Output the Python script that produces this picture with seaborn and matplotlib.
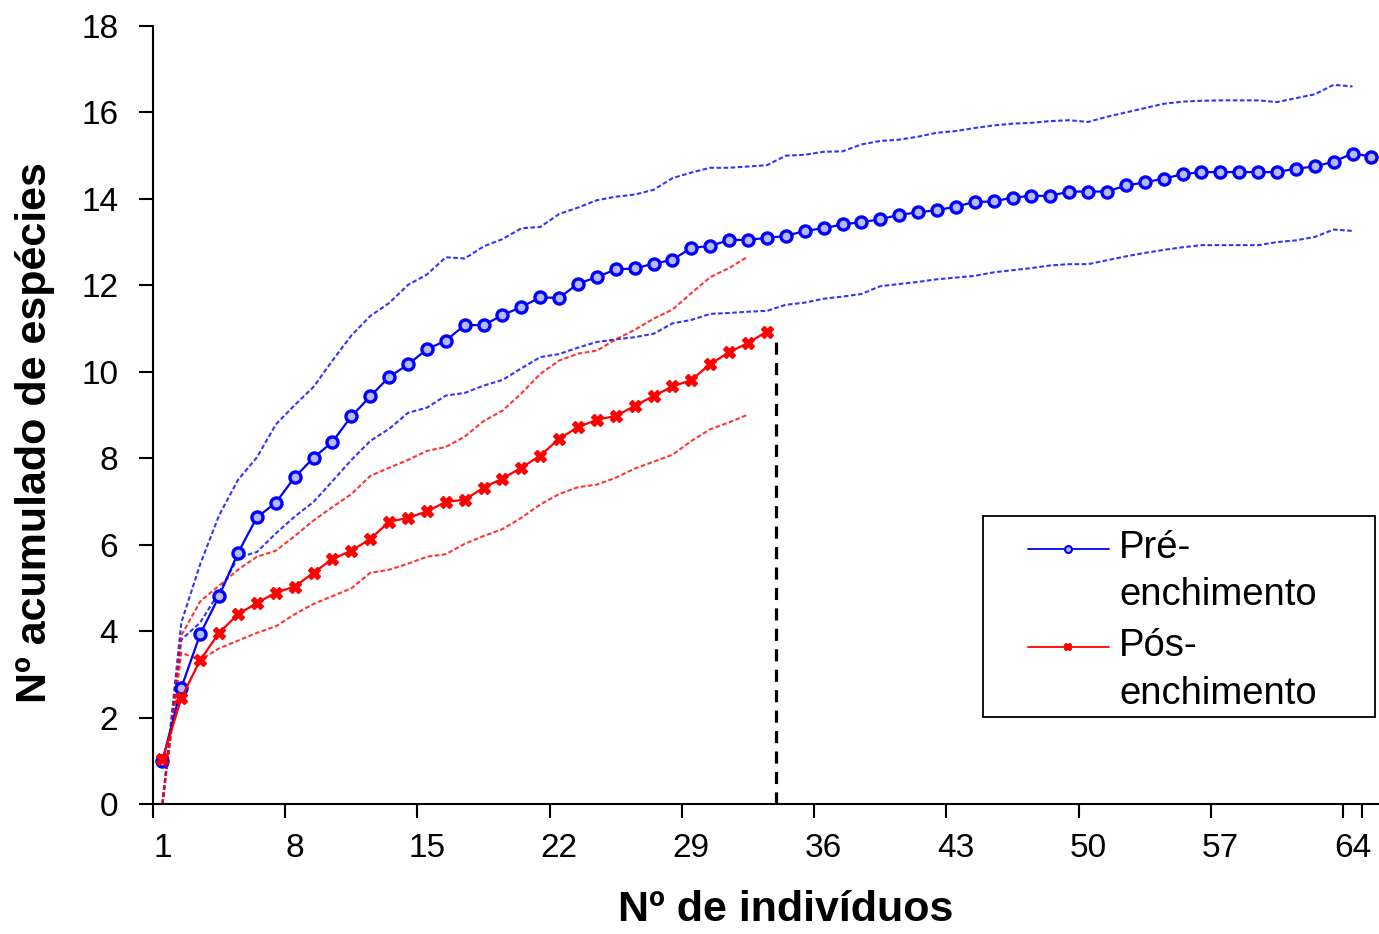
import matplotlib
matplotlib.use("Agg")
import matplotlib.pyplot as plt
from matplotlib.patches import Rectangle
import seaborn as sns

# -----------------------------------
# Data
# -----------------------------------
n_pre = list(range(1, 66))
pre_mean = [1.0, 2.69, 3.93, 4.81, 5.81, 6.63, 6.97, 7.56, 8.01, 8.38,
            8.97, 9.43, 9.88, 10.17, 10.52, 10.72, 11.08, 11.08, 11.31, 11.5,
            11.72, 11.71, 12.04, 12.19, 12.37, 12.39, 12.5, 12.59, 12.87, 12.91,
            13.05, 13.05, 13.1, 13.14, 13.26, 13.32, 13.41, 13.46, 13.53, 13.63,
            13.69, 13.74, 13.82, 13.93, 13.94, 14.03, 14.07, 14.07, 14.17, 14.17,
            14.17, 14.31, 14.38, 14.47, 14.57, 14.62, 14.62, 14.62, 14.62, 14.62,
            14.7, 14.75, 14.86, 15.05, 14.98]

n_pre_ci = list(range(1, 65))
pre_upper = [0, 4.2, 5.55, 6.68, 7.5, 8.02, 8.78, 9.23, 9.65, 10.26,
             10.84, 11.29, 11.59, 12.01, 12.25, 12.65, 12.62, 12.9, 13.07, 13.32,
             13.35, 13.65, 13.8, 13.97, 14.05, 14.1, 14.21, 14.48, 14.61, 14.72,
             14.72, 14.75, 14.78, 15.0, 15.02, 15.09, 15.1, 15.26, 15.34, 15.37,
             15.44, 15.53, 15.57, 15.64, 15.7, 15.74, 15.76, 15.8, 15.82, 15.78,
             15.9, 16.0, 16.1, 16.2, 16.25, 16.27, 16.28, 16.28, 16.28, 16.24,
             16.33, 16.42, 16.64, 16.6]
pre_lower = [0, 3.8, 4.2, 4.9, 5.7, 5.83, 6.26, 6.65, 6.99, 7.47,
             7.96, 8.4, 8.68, 9.05, 9.17, 9.45, 9.51, 9.68, 9.81, 10.08,
             10.34, 10.41, 10.56, 10.69, 10.75, 10.8, 10.88, 11.12, 11.2, 11.34,
             11.36, 11.39, 11.41, 11.55, 11.6, 11.69, 11.74, 11.8, 11.98, 12.03,
             12.08, 12.14, 12.18, 12.22, 12.3, 12.35, 12.4, 12.46, 12.49, 12.49,
             12.58, 12.67, 12.75, 12.82, 12.88, 12.93, 12.93, 12.93, 12.93, 13.0,
             13.04, 13.12, 13.29, 13.26]

n_pos = list(range(1, 34))
pos_mean = [1.03, 2.45, 3.33, 3.96, 4.39, 4.65, 4.89, 5.03, 5.35, 5.67,
            5.86, 6.13, 6.53, 6.62, 6.77, 6.99, 7.04, 7.32, 7.53, 7.78,
            8.06, 8.45, 8.72, 8.89, 8.98, 9.21, 9.44, 9.66, 9.81, 10.18,
            10.45, 10.67, 10.93]

n_pos_ci = list(range(1, 33))
pos_upper = [0, 3.9, 4.69, 5.05, 5.42, 5.72, 5.86, 6.2, 6.56, 6.87,
             7.17, 7.59, 7.78, 7.96, 8.17, 8.26, 8.5, 8.86, 9.1, 9.5,
             9.95, 10.26, 10.42, 10.49, 10.75, 10.97, 11.23, 11.44, 11.82, 12.19,
             12.4, 12.67]
pos_lower = [0, 3.5, 3.33, 3.6, 3.78, 3.96, 4.11, 4.39, 4.63, 4.81,
             4.99, 5.35, 5.42, 5.56, 5.72, 5.78, 6.02, 6.2, 6.36, 6.62,
             6.93, 7.17, 7.33, 7.39, 7.55, 7.76, 7.92, 8.08, 8.4, 8.67,
             8.83, 9.01]

cutoff_x = 33.5
cutoff_top = 10.88

x_ticklabels = [1, 8, 15, 22, 29, 36, 43, 50, 57, 64]
y_ticks = [0, 2, 4, 6, 8, 10, 12, 14, 16, 18]
labels = ["Pré-\nenchimento", "Pós-\nenchimento"]

# -----------------------------------
# Style
# -----------------------------------
sns.set_style("white")
plt.rcParams["font.family"] = ["Liberation Sans", "DejaVu Sans"]
for key in ["text.color", "axes.labelcolor", "xtick.color", "ytick.color"]:
    plt.rcParams[key] = "black"

BLUE = "#0000ff"
RED = "#ff0000"
ci_style = (0, (2.2, 1.2))

fig = plt.figure(figsize=(13.79, 9.34), dpi=100)
ax = fig.add_axes([153 / 1379, 1 - 804 / 934, 1 - 153 / 1379, (804 - 26) / 934])

# confidence bounds
for xs, ys, c in [(n_pre_ci, pre_upper, BLUE), (n_pre_ci, pre_lower, BLUE),
                  (n_pos_ci, pos_upper, RED), (n_pos_ci, pos_lower, RED)]:
    sns.lineplot(x=xs, y=ys, ax=ax, color=c, lw=1.5, alpha=0.8,
                 linestyle=ci_style, legend=False)

# main curves
sns.lineplot(x=n_pre, y=pre_mean, ax=ax, color=BLUE, lw=1.6, marker="o",
             markersize=8, markeredgewidth=2.4, markeredgecolor=BLUE,
             markerfacecolor="#b8b8ff", legend=False)
sns.lineplot(x=n_pos, y=pos_mean, ax=ax, color=RED, lw=1.6, marker="X",
             markersize=9, markeredgewidth=1.0, markeredgecolor=RED,
             markerfacecolor=RED, legend=False)

# cut-off line
ax.vlines(cutoff_x, 0, cutoff_top, colors="black", lw=2.3,
          linestyles=(0, (3.8, 2.6)))

# -----------------------------------
# Axes
# -----------------------------------
ax.set_xlim(0.5, 65.4)
ax.set_ylim(0, 18)
ax.set_yticks(y_ticks)
ax.set_xticks([v - 0.5 for v in x_ticklabels] + [64.5], minor=False)
ax.set_xticklabels([])
ax.set_xticks(x_ticklabels, minor=True)
ax.set_xticklabels([str(v) for v in x_ticklabels], minor=True)
ax.tick_params(axis="x", which="minor", length=0, pad=21, labelsize=24)
ax.tick_params(axis="x", which="major", length=10, width=1.5, direction="out")
ax.tick_params(axis="y", length=10, width=1.5, direction="out", pad=15,
               labelsize=24)
ax.tick_params(bottom=True, left=True)

sns.despine(ax=ax)
for side in ["left", "bottom"]:
    ax.spines[side].set_linewidth(1.5)
    ax.spines[side].set_color("black")

ax.set_xlabel("Nº de indivíduos", fontsize=31, fontweight="bold", va="center")
ax.xaxis.set_label_coords(0.516, -0.136)
ax.set_ylabel("Nº acumulado de espécies", fontsize=31, fontweight="bold",
              va="center")
ax.yaxis.set_label_coords(-0.096, 0.478)

# -----------------------------------
# Legend (Excel style box, handle next to the first text line)
# -----------------------------------
handles = ax.get_lines()
leg = ax.legend([handles[4], handles[5]], labels, loc="upper left",
                bbox_to_anchor=(1028 / 1379, 1 - 530 / 934),
                bbox_transform=fig.transFigure, fontsize=27.5,
                frameon=False, handlelength=2.12, handletextpad=0.27,
                borderpad=0, borderaxespad=0, labelspacing=0.4)
for t in leg.get_texts():
    t.set_linespacing(1.4)
for h in leg.legend_handles:
    h.set_markersize(5)
    h.set_markeredgewidth(1.5)
    h.set_linewidth(1.3)
    h.set_ydata([y + 17 for y in h.get_ydata()])
fig.add_artist(Rectangle((983 / 1379, 1 - 717 / 934), (1375 - 983) / 1379,
                         (717 - 516) / 934, transform=fig.transFigure,
                         fill=False, edgecolor="black", lw=1.3))

fig.savefig("out.png", dpi=100)
